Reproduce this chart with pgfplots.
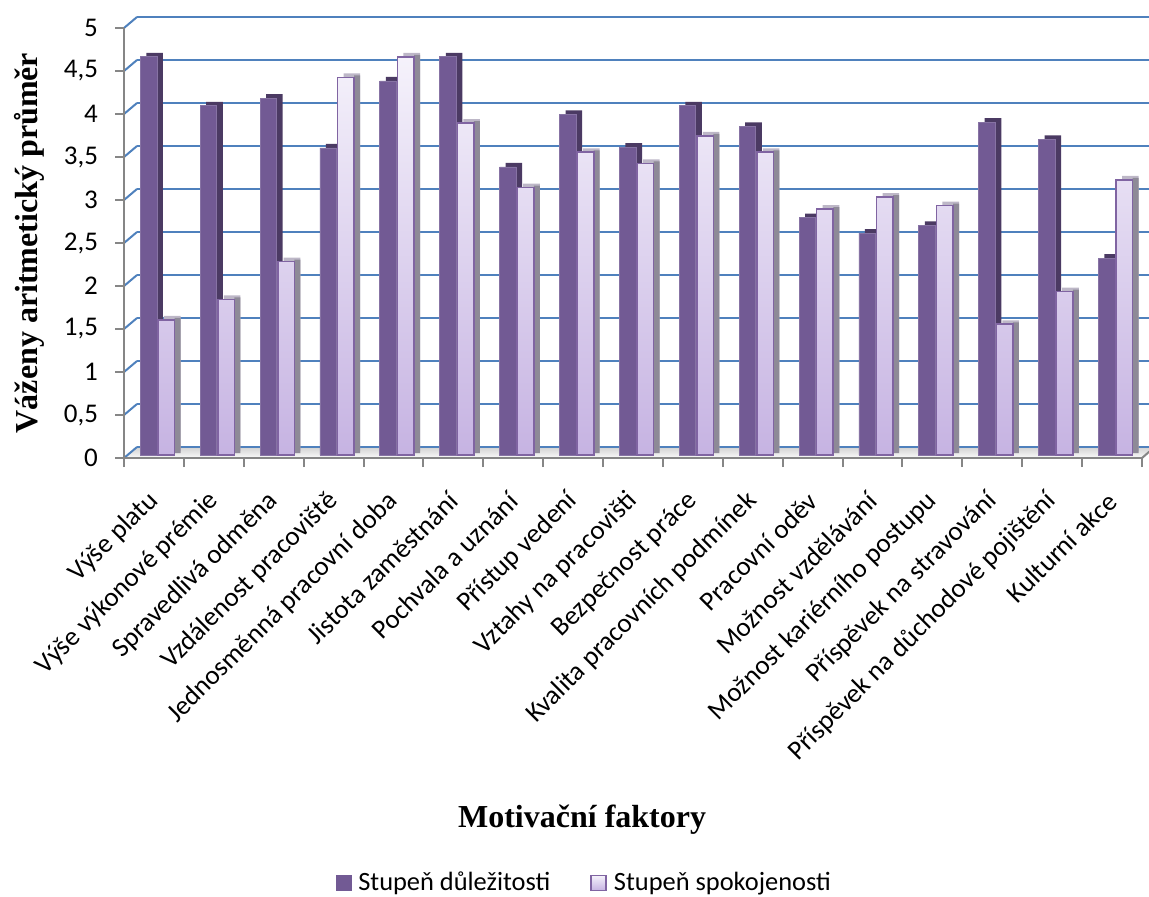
\documentclass[border=0pt]{standalone}
\usepackage{fontspec}
\setmainfont{Carlito}
\newfontfamily\serifb{Liberation Serif}
\usepackage{pgfplots}
\usepackage{pgfplotstable}
\pgfplotsset{compat=1.18}

\definecolor{gridblue}{HTML}{4F81BD}
\definecolor{axisgray}{HTML}{868686}
\definecolor{darkfront}{HTML}{725A94}
\definecolor{darkside}{HTML}{4B3A63}
\definecolor{lightedge}{HTML}{8064A2}
\definecolor{lighttop}{HTML}{F5F2FB}
\definecolor{lightbottom}{HTML}{C6B3E2}
\definecolor{lightcap}{HTML}{BDB7C7}
\definecolor{lightside}{HTML}{8E8A97}

% c = factor index, imp = stupeň důležitosti, sat = stupeň spokojenosti
\pgfplotstableread{
c  imp   sat
0  4.63  1.57
1  4.06  1.81
2  4.15  2.25
3  3.57  4.39
4  4.35  4.63
5  4.63  3.86
6  3.35  3.11
7  3.96  3.52
8  3.58  3.39
9  4.06  3.71
10 3.82  3.52
11 2.76  2.86
12 2.58  3.00
13 2.67  2.90
14 3.87  1.52
15 3.67  1.90
16 2.29  3.20
}\data

\newcommand\labfont{\fontsize{13.5}{16}\selectfont}
\newcommand\legfont{\fontsize{13.2}{16}\selectfont}
\newcommand\titlefont{\serifb\bfseries\fontsize{16}{19}\selectfont}

\begin{document}
\begin{tikzpicture}
\path[use as bounding box] (0pt,0pt) rectangle (574.5pt,448pt);

% floor of the 3-D box
\fill[top color=gray!35, bottom color=gray!4] (62pt,219pt) -- (571pt,219pt) -- (577.5pt,224.5pt) -- (68.5pt,224.5pt) -- cycle;

% back wall with the horizontal grid
\begin{axis}[
  scale only axis, width=506pt, height=215pt,
  at={(68.5pt,224.5pt)}, anchor=south west,
  xmin=0, xmax=1, ymin=0, ymax=5,
  xtick=\empty, ytick={0,0.5,...,5}, yticklabels={},
  ymajorgrids, major grid style={gridblue, line width=1pt},
  axis line style={draw=none}, major tick length=0pt,
  clip=false]
\end{axis}

% side wall grid
\foreach \k in {0,...,10}
  \draw[gridblue, line width=1pt] ([yshift=\k*21.5pt]62pt,219pt) -- ([yshift=\k*21.5pt]68.5pt,224.5pt);

% columns
\begin{axis}[
  scale only axis, width=509pt, height=215pt,
  at={(63.75pt,220.5pt)}, anchor=south west,
  xmin=-0.5, xmax=16.5, ymin=0, ymax=5,
  hide axis, clip=false]
  % stupeň důležitosti: depth, then front face
  \addplot[ybar, bar width=8.3pt, bar shift=-4.4pt, fill=darkside, draw=none,
           xshift=3pt, yshift=2pt] table[x=c, y=imp] {\data};
  \addplot[ybar, bar width=8.3pt, bar shift=-4.4pt, fill=darkfront,
           draw=darkfront!85!white, line width=0.4pt] table[x=c, y=imp] {\data};
  % stupeň spokojenosti: cap, side, then front face
  \addplot[ybar, bar width=8.3pt, bar shift=4.4pt, fill=lightcap, draw=none,
           xshift=3pt, yshift=2pt] table[x=c, y=sat] {\data};
  \addplot[ybar, bar width=3pt, bar shift=10.05pt, fill=lightside, draw=none,
           yshift=1pt] table[x=c, y=sat] {\data};
  \addplot[ybar, bar width=8.3pt, bar shift=4.4pt, top color=lighttop,
           bottom color=lightbottom, draw=lightedge, line width=0.8pt]
           table[x=c, y=sat] {\data};
\end{axis}

% x-axis end going back
\draw[axisgray, line width=1pt] (571pt,219pt) -- (575pt,222.5pt);

% front axes, labels and legend
\begin{axis}[
  scale only axis, width=509pt, height=215pt,
  at={(62pt,219pt)}, anchor=south west,
  xmin=-0.5, xmax=16.5, ymin=0, ymax=5,
  axis lines*=left,
  axis line style={axisgray, line width=1pt},
  tick align=outside, tick style={axisgray, line width=1pt},
  major tick length=4.5pt,
  ytick={0,0.5,...,5},
  /pgf/number format/use comma,
  /pgf/number format/assume math mode=true,
  xtick={-0.5,0.5,...,16.5}, xticklabels={},
  extra x ticks={0,...,16},
  extra x tick labels={Výše platu, Výše výkonové prémie, Spravedlivá odměna,
    Vzdálenost pracoviště, Jednosměnná pracovní doba, Jistota zaměstnání,
    Pochvala a uznání, Přístup vedení, Vztahy na pracovišti, Bezpečnost práce,
    Kvalita pracovních podmínek, Pracovní oděv, Možnost vzdělávání,
    Možnost kariérního postupu, Příspěvek na stravování,
    Příspěvek na důchodové pojištění, Kulturní akce},
  extra x tick style={major tick length=0pt},
  tick label style={font=\labfont, text=black},
  yticklabel style={xshift=-5pt},
  xticklabel style={xshift=2.5pt, yshift=-17pt, rotate=45, anchor=east},
  xlabel={Motivační faktory},
  ylabel={Váženy aritmetický průměr},
  xlabel style={at={(0.45,-0.842)}, anchor=center, font=\titlefont},
  ylabel style={at={(-0.0933,0.5)}, anchor=center, font=\titlefont},
  legend style={at={(0.453,-0.988)}, anchor=center, draw=none,
    legend columns=2, font=\legfont,
    /tikz/every odd column/.append style={column sep=1.5pt},
    /tikz/every even column/.append style={column sep=18pt}},
  legend image code/.code={\draw[#1] (0pt,-3.75pt) rectangle (7.5pt,3.75pt);},
  clip=false]
  \addlegendimage{fill=darkfront, draw=darkfront}
  \addlegendentry{Stupeň důležitosti}
  \addlegendimage{top color=lighttop, bottom color=lightbottom, draw=lightedge, line width=0.8pt}
  \addlegendentry{Stupeň spokojenosti}
\end{axis}
\end{tikzpicture}
\end{document}
